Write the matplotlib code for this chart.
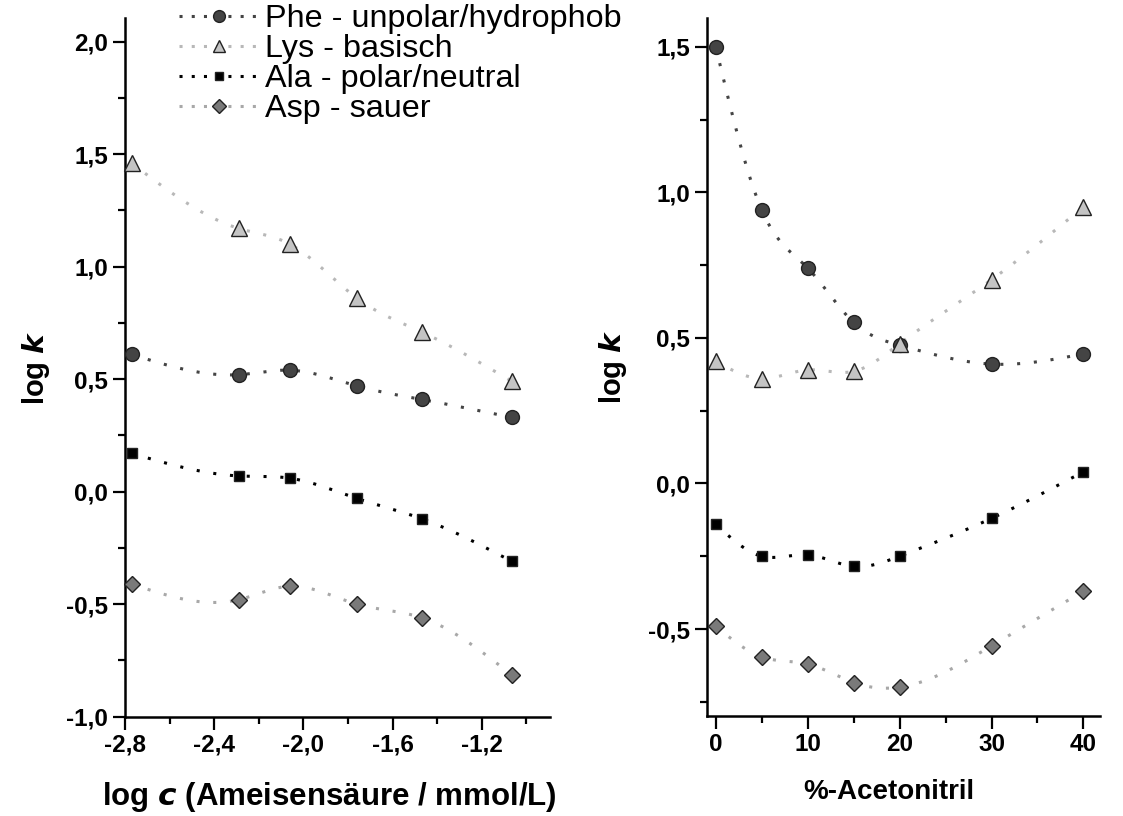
import numpy as np
import matplotlib.pyplot as plt
from matplotlib.ticker import MultipleLocator, FuncFormatter

plt.rcParams['font.family'] = ['Liberation Sans', 'DejaVu Sans']

# left panel: log c (formic acid)
logc = [-2.77, -2.29, -2.06, -1.76, -1.47, -1.065]
phe_l = [0.61, 0.52, 0.54, 0.47, 0.41, 0.33]
lys_l = [1.46, 1.17, 1.10, 0.86, 0.71, 0.49]
ala_l = [0.17, 0.07, 0.06, -0.03, -0.12, -0.31]
asp_l = [-0.41, -0.48, -0.42, -0.50, -0.56, -0.815]

# right panel: % acetonitrile
acn = [0, 5, 10, 15, 20, 30, 40]
phe_r = [1.50, 0.94, 0.74, 0.553, 0.475, 0.41, 0.445]
lys_r = [0.42, 0.36, 0.39, 0.385, 0.48, 0.70, 0.95]
ala_r = [-0.14, -0.25, -0.245, -0.285, -0.25, -0.12, 0.04]
asp_r = [-0.49, -0.596, -0.62, -0.684, -0.70, -0.558, -0.37]

labels = ["Phe - unpolar/hydrophob", "Lys - basisch", "Ala - polar/neutral", "Asp - sauer"]
styles = [
    dict(marker='o', mfc='#444444', line='#444444', ms=10),
    dict(marker='^', mfc='#c4c4c4', line='#b8b8b8', ms=11),
    dict(marker='s', mfc='#000000', line='#000000', ms=7.5),
    dict(marker='D', mfc='#7a7a7a', line='#a8a8a8', ms=8.5),
]


def spline(x, y, n=300):
    # natural cubic spline through the points, only for the connecting line
    x = np.asarray(x, float)
    y = np.asarray(y, float)
    k = len(x)
    h = np.diff(x)
    A = np.zeros((k, k))
    b = np.zeros(k)
    A[0, 0] = 1
    A[-1, -1] = 1
    for i in range(1, k - 1):
        A[i, i - 1] = h[i - 1]
        A[i, i] = 2 * (h[i - 1] + h[i])
        A[i, i + 1] = h[i]
        b[i] = 6 * ((y[i + 1] - y[i]) / h[i] - (y[i] - y[i - 1]) / h[i - 1])
    M = np.linalg.solve(A, b)
    xs = np.linspace(x[0], x[-1], n)
    j = np.clip(np.searchsorted(x, xs) - 1, 0, k - 2)
    t0 = x[j + 1] - xs
    t1 = xs - x[j]
    ys = (M[j] * t0 ** 3 + M[j + 1] * t1 ** 3) / (6 * h[j]) \
        + (y[j] / h[j] - M[j] * h[j] / 6) * t0 \
        + (y[j + 1] / h[j] - M[j + 1] * h[j] / 6) * t1
    return xs, ys


def draw(ax, x, series):
    handles = []
    for ys, st, lab in zip(series, styles, labels):
        xs, yy = spline(x, ys)
        ax.plot(xs, yy, color=st['line'], ls=(0, (1, 4.5)), lw=2.2, zorder=2)
        ax.plot(x, ys, ls='none', marker=st['marker'], mfc=st['mfc'], mec='#222222',
                mew=1.0, ms=st['ms'], zorder=3, clip_on=False)
        h, = ax.plot([], [], color=st['line'], ls=(0, (1, 3)), lw=2.2, marker=st['marker'],
                     mfc=st['mfc'], mec='#222222', mew=1.0, ms=st['ms'] * 0.85)
        handles.append(h)
    return handles


def style(ax):
    for s in ['top', 'right']:
        ax.spines[s].set_visible(False)
    for s in ['left', 'bottom']:
        ax.spines[s].set_linewidth(1.8)
    ax.tick_params(which='major', length=9, width=1.6, labelsize=17.5, pad=3)
    ax.tick_params(which='minor', length=5, width=1.6)
    for lab in ax.get_xticklabels() + ax.get_yticklabels():
        lab.set_fontweight('bold')


comma = FuncFormatter(lambda v, p: f"{v:.1f}".replace('.', ','))

fig = plt.figure(figsize=(11.23, 8.16), dpi=100)
ax1 = fig.add_axes([0.1113, 0.1217, 0.3785, 0.8559])
ax2 = fig.add_axes([0.6293, 0.1225, 0.3502, 0.8551])

handles = draw(ax1, logc, [phe_l, lys_l, ala_l, asp_l])
draw(ax2, acn, [phe_r, lys_r, ala_r, asp_r])

ax1.set_xlim(-2.8, -0.894)
ax1.set_ylim(-1.0, 2.104)
ax1.xaxis.set_minor_locator(MultipleLocator(0.2))
ax1.yaxis.set_major_locator(MultipleLocator(0.5))
ax1.yaxis.set_minor_locator(MultipleLocator(0.25))
ax1.set_xticks([-2.8, -2.4, -2.0, -1.6, -1.2])
ax1.xaxis.set_major_formatter(comma)
ax1.yaxis.set_major_formatter(comma)
ax1.set_xlabel("log $\\mathbfit{c}$ (Ameisensäure / mmol/L)", fontsize=22.5, fontweight='bold')
ax1.xaxis.set_label_coords(0.48, -0.09)
ax1.set_ylabel("log $\\mathbfit{k}$", fontsize=21, fontweight='bold')
ax1.yaxis.set_label_coords(-0.172, 0.5)

ax2.set_xlim(-0.98, 41.8)
ax2.set_ylim(-0.799, 1.598)
ax2.xaxis.set_minor_locator(MultipleLocator(5))
ax2.yaxis.set_minor_locator(MultipleLocator(0.25))
ax2.set_xticks([0, 10, 20, 30, 40])
ax2.set_yticks([-0.5, 0.0, 0.5, 1.0, 1.5])
ax2.yaxis.set_major_formatter(comma)
ax2.set_xlabel("%-Acetonitril", fontsize=20, fontweight='bold')
ax2.xaxis.set_label_coords(0.463, -0.09)
ax2.set_ylabel("log $\\mathbfit{k}$", fontsize=21, fontweight='bold')
ax2.yaxis.set_label_coords(-0.197, 0.5)

style(ax1)
style(ax2)

fig.legend(handles, labels, loc='upper left', bbox_to_anchor=(0.142, 1.019), frameon=False,
           fontsize=23.3, handlelength=2.5, handletextpad=0.15, labelspacing=0.0, borderpad=0.1)

fig.savefig('out.png', dpi=100)
